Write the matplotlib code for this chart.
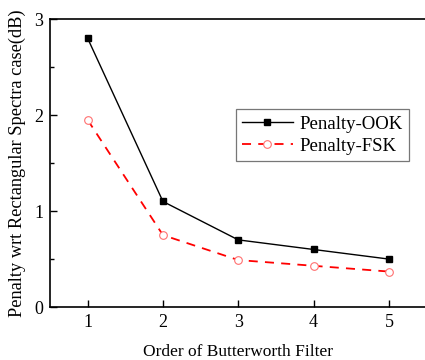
import matplotlib
matplotlib.use("Agg")
import matplotlib.pyplot as plt
from matplotlib.ticker import MultipleLocator

# data
order = [1, 2, 3, 4, 5]
penalty_ook = [2.80, 1.10, 0.70, 0.60, 0.50]
penalty_fsk = [1.95, 0.75, 0.49, 0.43, 0.37]

plt.rcParams['font.family'] = ['Liberation Serif', 'DejaVu Serif']
plt.rcParams['font.size'] = 13

fig = plt.figure(figsize=(4.25, 3.6), dpi=100)
ax = fig.add_axes([0.1176, 0.147, 0.886, 0.8])

ax.plot(order, penalty_ook, color='black', linewidth=1.0, marker='s',
        markersize=5, markerfacecolor='black', label='Penalty-OOK')
ax.plot(order, penalty_fsk, color='red', linewidth=1.3, linestyle=(0, (5, 4)),
        marker='o', markersize=5.5, markerfacecolor='white',
        markeredgecolor='#ff7070', markeredgewidth=0.8, label='Penalty-FSK')

ax.set_xlim(0.5, 5.5)
ax.set_ylim(0, 3)
ax.xaxis.set_major_locator(MultipleLocator(1))
ax.yaxis.set_major_locator(MultipleLocator(1))
ax.yaxis.set_minor_locator(MultipleLocator(0.5))
ax.tick_params(which='both', direction='in', top=False, right=False, width=1.0)
ax.tick_params(which='major', length=5, pad=5, labelsize=13)
ax.tick_params(which='minor', length=3)
ax.spines['right'].set_visible(False)
for s in ['left', 'bottom', 'top']:
    ax.spines[s].set_linewidth(1.2)

ax.set_xlabel('Order of Butterworth Filter', labelpad=9, fontsize=12.5)
ax.set_ylabel('Penalty wrt Rectangular Spectra case(dB)', labelpad=6, fontsize=13.2)

leg = ax.legend(loc='upper left', bbox_to_anchor=(0.468, 0.72), fancybox=False,
                edgecolor='#555555', handlelength=2.7, handletextpad=0.35,
                borderpad=0.35, labelspacing=0.25, fontsize=13.5)
leg.get_frame().set_linewidth(0.9)

fig.savefig('out.png', dpi=100)
